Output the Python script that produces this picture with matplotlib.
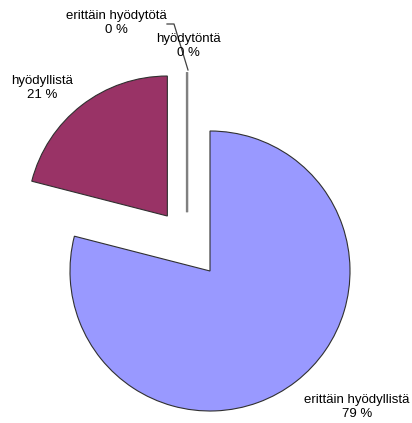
import matplotlib
matplotlib.use('Agg')
import matplotlib.pyplot as plt

# Data
labels = ['erittäin hyödyllistä', 'hyödyllistä', 'hyödytöntä', 'erittäin hyödytötä']
values = [79, 21, 0, 0]
colors = ['#9999FF', '#993366', '#9999FF', '#993366']
explode = [0, 0.497, 0.42, 0.42]

# label positions in pixels (center x, center y)
label_px = [(357, 407), (42, 88), (188, 46), (116, 23)]

W, H = 412, 423
cx, cy, r = 210, 271, 140

plt.rcParams['font.family'] = ['Liberation Sans', 'DejaVu Sans']

fig = plt.figure(figsize=(W / 100, H / 100), dpi=100)
ax = fig.add_axes([0, 0, 1, 1])

wedges, _ = ax.pie(values, colors=colors, explode=explode, startangle=90,
                   counterclock=False, radius=1,
                   wedgeprops=dict(edgecolor='#303030', linewidth=0.8))

ax.set_xlim(-cx / r, (W - cx) / r)
ax.set_ylim(-(H - cy) / r, cy / r)
ax.set_aspect('equal')
ax.axis('off')

# zero slices show as a grey line, slightly left of the axis
for w in wedges[2:]:
    x0, y0 = w.center
    w.set_center((x0 - 0.164, y0))
    w.set_edgecolor('#808080')
    w.set_linewidth(1.6)


def px(x, y):
    return (x - cx) / r, (cy - y) / r


for lab, v, (lx, ly) in zip(labels, values, label_px):
    x, y = px(lx, ly)
    ax.text(x, y, f'{lab}\n{v} %', ha='center', va='center', fontsize=9.5,
            linespacing=1.2)

# leader line for the last label
xs, ys = zip(px(167, 24), px(174, 24), px(188, 70))
ax.plot(xs, ys, color='#404040', linewidth=0.9)

fig.savefig('out.png', dpi=100)
